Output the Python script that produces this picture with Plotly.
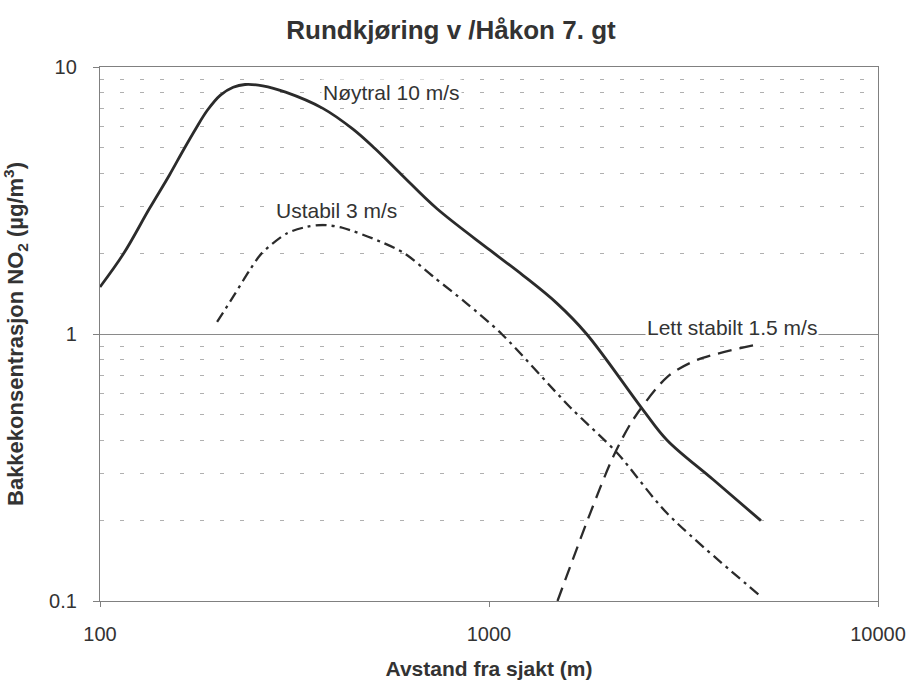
import numpy as np
import plotly.graph_objects as go

# Data
noytral_x = [100, 115, 134, 151, 164, 176, 189, 204, 220, 236, 262, 300, 374, 447, 509, 596, 734, 1006, 1225, 1493, 1782, 2488, 2870, 3767, 5000]
noytral_y = [1.50, 2.0, 2.95, 3.95, 4.9, 5.85, 6.9, 7.85, 8.4, 8.6, 8.5, 8.05, 7.0, 5.85, 4.95, 3.95, 2.95, 2.06, 1.655, 1.305, 1.0, 0.52, 0.40, 0.285, 0.20]

ustabil_x = [200, 220, 243, 260, 302, 340, 374, 420, 525, 608, 719, 877, 1078, 1614, 2133, 2870, 5000]
ustabil_y = [1.11, 1.38, 1.74, 2.0, 2.38, 2.52, 2.56, 2.5, 2.22, 2.0, 1.64, 1.30, 1.0, 0.533, 0.359, 0.213, 0.104]

stabil_x = [1500, 1820, 2084, 2345, 2870, 3430, 5000]
stabil_y = [0.10, 0.213, 0.346, 0.477, 0.69, 0.80, 0.92]

labels = ["Nøytral 10 m/s", "Ustabil 3 m/s", "Lett stabilt 1.5 m/s"]
label_x = [563, 405, 4220]
label_y = [8.0, 2.91, 1.06]

x_ticks = [100, 1000, 10000]
x_ticklabels = ["100", "1000", "10000"]
y_ticks = [0.1, 1, 10]
y_ticklabels = ["0.1", "1", "10"]

FONT = "Liberation Sans, Arial, sans-serif"
LC = "#2b2b2b"
TC = "#333333"

fig = go.Figure()
fig.add_trace(go.Scatter(x=noytral_x, y=noytral_y, mode="lines",
                         line=dict(color=LC, width=2.8, shape="spline", smoothing=1.0),
                         showlegend=False, hoverinfo="skip"))
fig.add_trace(go.Scatter(x=ustabil_x, y=ustabil_y, mode="lines",
                         line=dict(color=LC, width=2.3, dash="11px,5px,3px,5px", shape="spline", smoothing=0.8),
                         showlegend=False, hoverinfo="skip"))
fig.add_trace(go.Scatter(x=stabil_x, y=stabil_y, mode="lines",
                         line=dict(color=LC, width=2.3, dash="14px,8px", shape="spline", smoothing=0.8),
                         showlegend=False, hoverinfo="skip"))

for t, lx, ly in zip(labels, label_x, label_y):
    fig.add_annotation(x=np.log10(lx), y=np.log10(ly), xref="x", yref="y", text=t,
                       showarrow=False, bgcolor="white", borderpad=1,
                       font=dict(family=FONT, size=21, color=TC))

fig.update_layout(
    width=911, height=681,
    margin=dict(l=100, r=33, t=67, b=80, autoexpand=False),
    paper_bgcolor="white", plot_bgcolor="white",
    title=dict(text="<b>Rundkjøring v /Håkon 7. gt</b>", x=451 / 911, xanchor="center",
               y=1 - 30 / 681, yanchor="middle",
               font=dict(family=FONT, size=26, color=TC)),
    font=dict(family=FONT, color=TC),
)
fig.update_xaxes(type="log", range=[2, 4], tickvals=x_ticks, ticktext=x_ticklabels,
                 showgrid=False, showline=True, linecolor="#808080", linewidth=1.3, mirror=True,
                 ticks="outside", ticklen=5, tickcolor="#808080", ticklabelstandoff=10,
                 tickfont=dict(family=FONT, size=20, color=TC),
                 title=dict(text="<b>Avstand fra sjakt (m)</b>", standoff=17,
                            font=dict(family=FONT, size=21, color=TC)),
                 zeroline=False, automargin=False)
fig.update_yaxes(type="log", range=[-1, 1], tickvals=y_ticks, ticktext=y_ticklabels,
                 showgrid=True, gridcolor="#8a8a8a", gridwidth=1,
                 showline=True, linecolor="#808080", linewidth=1.3, mirror=True,
                 ticks="outside", ticklen=6, tickcolor="#808080", ticklabelstandoff=12,
                 tickfont=dict(family=FONT, size=20, color=TC),
                 minor=dict(dtick="D1", showgrid=True, gridcolor="#b0b0b0", griddash="4px,16px",
                            gridwidth=1, ticks=""),
                 title=dict(text="<b>Bakkekonsentrasjon NO<sub>2</sub> (µg/m<sup>3</sup>)</b>", standoff=28,
                            font=dict(family=FONT, size=22, color=TC)),
                 zeroline=False, automargin=False)

fig.write_html("out.html", config={"displayModeBar": False},
               post_script="document.body.style.margin='0px';")
